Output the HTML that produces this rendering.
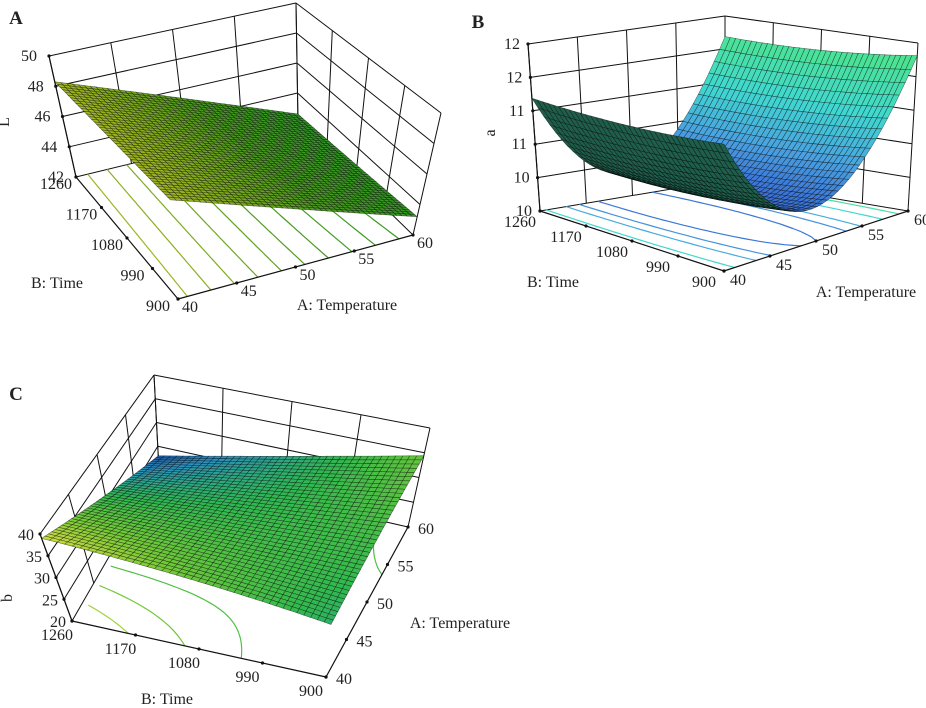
<!DOCTYPE html>
<html><head><meta charset="utf-8"><style>
html,body{margin:0;padding:0;background:#fff;}
svg{display:block;font-family:"Liberation Serif",serif;}
</style></head><body>
<svg id="chart" width="926" height="708" viewBox="0 0 926 708" xmlns="http://www.w3.org/2000/svg"></svg>
<script>
// ---- data ----
const tempTicks = [40, 45, 50, 55, 60];
const timeTicks = [900, 990, 1080, 1170, 1260];
const zTicksA = [42, 44, 46, 48, 50];
const zLabelsA = ["42", "44", "46", "48", "50"];
const zTicksB = [10, 10.4, 10.8, 11.2, 11.6, 12];
const zLabelsB = ["10", "10", "11", "11", "12", "12"];
const zTicksC = [20, 25, 30, 35, 40];
const zLabelsC = ["20", "25", "30", "35", "40"];
// model coefficients: [const, x(Temp), y(Time), xy, x^2, y^2]
const coefA = [45.575, -2.675, -0.125, -0.175, 0, 0];
const coefB = [10.3, 0.2, -0.05, 0, 1.25, 0.05];
const coefC = [31.6, -2.9, -0.6, -5.1, 0, 0];
const levelsA = [43, 43.5, 44, 44.5, 45, 45.5, 46, 46.5, 47, 47.5, 48];
const levelsB = [10.4, 10.6, 10.8, 11.2, 11.6];
const levelsC = [33, 35, 37];

const NS = "http://www.w3.org/2000/svg";
const svg = document.getElementById('chart');
function el(tag, parent){ const e = document.createElementNS(NS, tag); parent.appendChild(e); return e; }
function hex(c){ return [parseInt(c.slice(1,3),16),parseInt(c.slice(3,5),16),parseInt(c.slice(5,7),16)]; }
function cmap(stops, t){
  t = Math.max(0, Math.min(1, t));
  for (let i = 1; i < stops.length; i++){
    if (t <= stops[i][0]){
      const a = stops[i-1], b = stops[i], f = (t - a[0]) / (b[0] - a[0] || 1);
      const ca = hex(a[1]), cb = hex(b[1]);
      return 'rgb(' + ca.map((v,k)=>Math.round(v + (cb[k]-v)*f)).join(',') + ')';
    }
  }
  return stops[stops.length-1][1];
}
function model(c, x, y){ return c[0] + c[1]*x + c[2]*y + c[3]*x*y + c[4]*x*x + c[5]*y*y; }

const panels = [
 { id:'panel-a', letter:'A', lp:[16,24], coef:coefA, zTicks:zTicksA, zLabels:zLabelsA, levels:levelsA, zmin:42, zmax:50, N:44,
   F:{f00:[178,299], f10:[413,235], f01:[76,177], f11:[298,123]},
   Z:{f00:[-10,-128], f10:[28,-122], f01:[-27,-121], f11:[-2,-120]},
   stops:[[0,'#2a9a28'],[0.4,'#4a9a20'],[0.7,'#90b020'],[1,'#d8cc30']], back:'#2c5a30',
   zl:'L', zlp:[9,122], tl:[-20,12], al:[12,13], zo:[-20,5],
   tName:[347,310], bName:[57,288] },
 { id:'panel-b', letter:'B', lp:[478,28], coef:coefB, zTicks:zTicksB, zLabels:zLabelsB, levels:levelsB, zmin:10, zmax:12, N:36,
   F:{f00:[724,271], f10:[908,211], f01:[540,211], f11:[725,180]},
   Z:{f00:[0,-175], f10:[10,-168], f01:[-12,-167], f11:[0,-164]},
   stops:[[0,'#2840c8'],[0.35,'#4aa0e0'],[0.6,'#40d8d0'],[1,'#50e878']], back:'#1f5e4a',
   zl:'a', zlp:[495,133], tl:[-20,16], al:[14,14], zo:[-16,5],
   tName:[866,297], bName:[553,287] },
 { id:'panel-c', letter:'C', lp:[16,400], coef:coefC, zTicks:zTicksC, zLabels:zLabelsC, levels:levelsC, zmin:20, zmax:40, N:40,
   F:{f00:[326,677], f10:[408,527], f01:[72,621], f11:[159,470]},
   Z:{f00:[10,-105], f10:[22,-99], f01:[-32,-87], f11:[-5,-95]},
   stops:[[0,'#1a1a80'],[0.3,'#2a90c0'],[0.55,'#30b850'],[0.75,'#70c838'],[1,'#e8e040']], back:'#2a4a40',
   zl:'b', zlp:[12,598], tl:[-15,19], al:[18,7], zo:[-14,6],
   tName:[460,628], bName:[167,704] }
];

function proj(P, u, v, w){
  const F = P.F, Z = P.Z;
  const bl = (a,b,c,d,k) => a[k]*(1-u)*(1-v) + b[k]*u*(1-v) + c[k]*(1-u)*v + d[k]*u*v;
  const fx = bl(F.f00,F.f10,F.f01,F.f11,0), fy = bl(F.f00,F.f10,F.f01,F.f11,1);
  const zx = bl(Z.f00,Z.f10,Z.f01,Z.f11,0), zy = bl(Z.f00,Z.f10,Z.f01,Z.f11,1);
  return [fx + w*zx, fy + w*zy];
}
function uT(T){ return (T-40)/20; }
function vt(t){ return (t-900)/360; }
function ln(g, p, q, stroke, sw){
  const e = el('line', g);
  e.setAttribute('x1', p[0].toFixed(1)); e.setAttribute('y1', p[1].toFixed(1));
  e.setAttribute('x2', q[0].toFixed(1)); e.setAttribute('y2', q[1].toFixed(1));
  e.setAttribute('stroke', stroke); e.setAttribute('stroke-width', sw);
  return e;
}
function txt(g, x, y, s, size, anchor){
  const e = el('text', g);
  e.setAttribute('x', x.toFixed(1)); e.setAttribute('y', y.toFixed(1));
  e.setAttribute('font-size', size); e.setAttribute('text-anchor', anchor || 'middle');
  e.setAttribute('fill', '#222');
  e.textContent = s;
  return e;
}

panels.forEach(P => {
  const g = el('g', svg);
  
  
  const wz = z => (z - P.zmin) / (P.zmax - P.zmin);

  const wall = el('g', g);
  
  
  tempTicks.forEach(T => { const l = ln(wall, proj(P,uT(T),1,0), proj(P,uT(T),1,1), '#111', 1);
    
     });
  timeTicks.forEach(t => { const l = ln(wall, proj(P,1,vt(t),0), proj(P,1,vt(t),1), '#111', 1);
    
     });
  P.zTicks.forEach(z => {
    const l1 = ln(wall, proj(P,0,1,wz(z)), proj(P,1,1,wz(z)), '#111', 1);
    
    
    const l2 = ln(wall, proj(P,1,1,wz(z)), proj(P,1,0,wz(z)), '#111', 1);
    
    
  });

  const N = P.N, vals = [];
  for (let i = 0; i <= N; i++){ vals.push([]); for (let j = 0; j <= N; j++){ vals[i].push(model(P.coef, -1 + 2*i/N, -1 + 2*j/N)); } }

  const cg = el('g', g);
  
  
  P.levels.forEach(L => {
    let d = '';
    for (let i = 0; i < N; i++) for (let j = 0; j < N; j++){
      const c = [[i,j],[i+1,j],[i+1,j+1],[i,j+1]];
      const pts = [];
      for (let k = 0; k < 4; k++){
        const a = c[k], b = c[(k+1)%4];
        const va = vals[a[0]][a[1]], vb = vals[b[0]][b[1]];
        if ((va - L) * (vb - L) < 0){
          const f = (L - va) / (vb - va);
          pts.push(proj(P, (a[0] + (b[0]-a[0])*f)/N, (a[1] + (b[1]-a[1])*f)/N, 0));
        }
      }
      for (let k = 0; k + 1 < pts.length; k += 2)
        d += 'M' + pts[k][0].toFixed(1) + ',' + pts[k][1].toFixed(1) + 'L' + pts[k+1][0].toFixed(1) + ',' + pts[k+1][1].toFixed(1);
    }
    const p = el('path', cg);
    p.setAttribute('d', d);
    p.setAttribute('fill', 'none');
    p.setAttribute('stroke', cmap(P.stops, wz(L)));
    p.setAttribute('stroke-width', 1.2);
    
    
  });

  const ax = el('g', g);
  
  
  const a1 = ln(ax, proj(P,0,1,0), proj(P,0,0,0), '#111', 1.2);
  
  
  const a2 = ln(ax, proj(P,0,0,0), proj(P,1,0,0), '#111', 1.2);
  
  
  const a3 = ln(ax, proj(P,0,1,0), proj(P,0,1,1), '#111', 1.2);
  
  

  timeTicks.forEach(t => {
    const p = proj(P, 0, vt(t), 0);
    const c = el('circle', ax); c.setAttribute('cx', p[0]); c.setAttribute('cy', p[1]); c.setAttribute('r', 1.6); c.setAttribute('fill', '#111');
    
    
    const tx = txt(ax, p[0] + P.tl[0], p[1] + P.tl[1], String(t), 16);
    
    
  });
  tempTicks.forEach(T => {
    const p = proj(P, uT(T), 0, 0);
    const c = el('circle', ax); c.setAttribute('cx', p[0]); c.setAttribute('cy', p[1]); c.setAttribute('r', 1.6); c.setAttribute('fill', '#111');
    
    
    const tx = txt(ax, p[0] + P.al[0], p[1] + P.al[1], String(T), 16);
    
    
  });
  P.zTicks.forEach((z, k) => {
    const p = proj(P, 0, 1, wz(z));
    const c = el('circle', ax); c.setAttribute('cx', p[0]); c.setAttribute('cy', p[1]); c.setAttribute('r', 1.6); c.setAttribute('fill', '#111');
    
    
    const tx = txt(ax, p[0] + P.zo[0], p[1] + P.zo[1], P.zLabels[k], 16);
    
    
  });

  const sg = el('g', g);
  
  
  const cells = [];
  for (let i = 0; i < N; i++) for (let j = 0; j < N; j++) cells.push([i,j]);
  cells.sort((a,b) => (b[0]+b[1]) - (a[0]+a[1]));
  const area = q => { let s = 0; for (let k = 0; k < 4; k++){ const a = q[k], b = q[(k+1)%4]; s += a[0]*b[1] - b[0]*a[1]; } return s; };
  cells.forEach(([i,j]) => {
    const idx = [[i,j],[i+1,j],[i+1,j+1],[i,j+1]];
    const q = idx.map(([a,b]) => proj(P, a/N, b/N, wz(vals[a][b])));
    const fl = idx.map(([a,b]) => proj(P, a/N, b/N, 0));
    const m = (vals[i][j] + vals[i+1][j] + vals[i+1][j+1] + vals[i][j+1]) / 4;
    const backface = Math.sign(area(q)) !== Math.sign(area(fl));
    const p = el('polygon', sg);
    p.setAttribute('points', q.map(x => x[0].toFixed(1) + ',' + x[1].toFixed(1)).join(' '));
    p.setAttribute('fill', backface ? P.back : cmap(P.stops, wz(m)));
    p.setAttribute('stroke', 'rgba(0,0,0,0.55)');
    p.setAttribute('stroke-width', 0.55);
    
    
  });

  const lt = txt(g, P.lp[0], P.lp[1], P.letter, 19);
  lt.setAttribute('font-weight', 'bold');
  
  
  const tn = txt(g, P.tName[0], P.tName[1], 'A: Temperature', 16);
  
  
  const bn = txt(g, P.bName[0], P.bName[1], 'B: Time', 16);
  
  
  const zt = txt(g, 0, 0, P.zl, 16);
  zt.setAttribute('transform', 'translate(' + P.zlp[0] + ',' + P.zlp[1] + ') rotate(-90)');
  
  
});
</script>
</body></html>
